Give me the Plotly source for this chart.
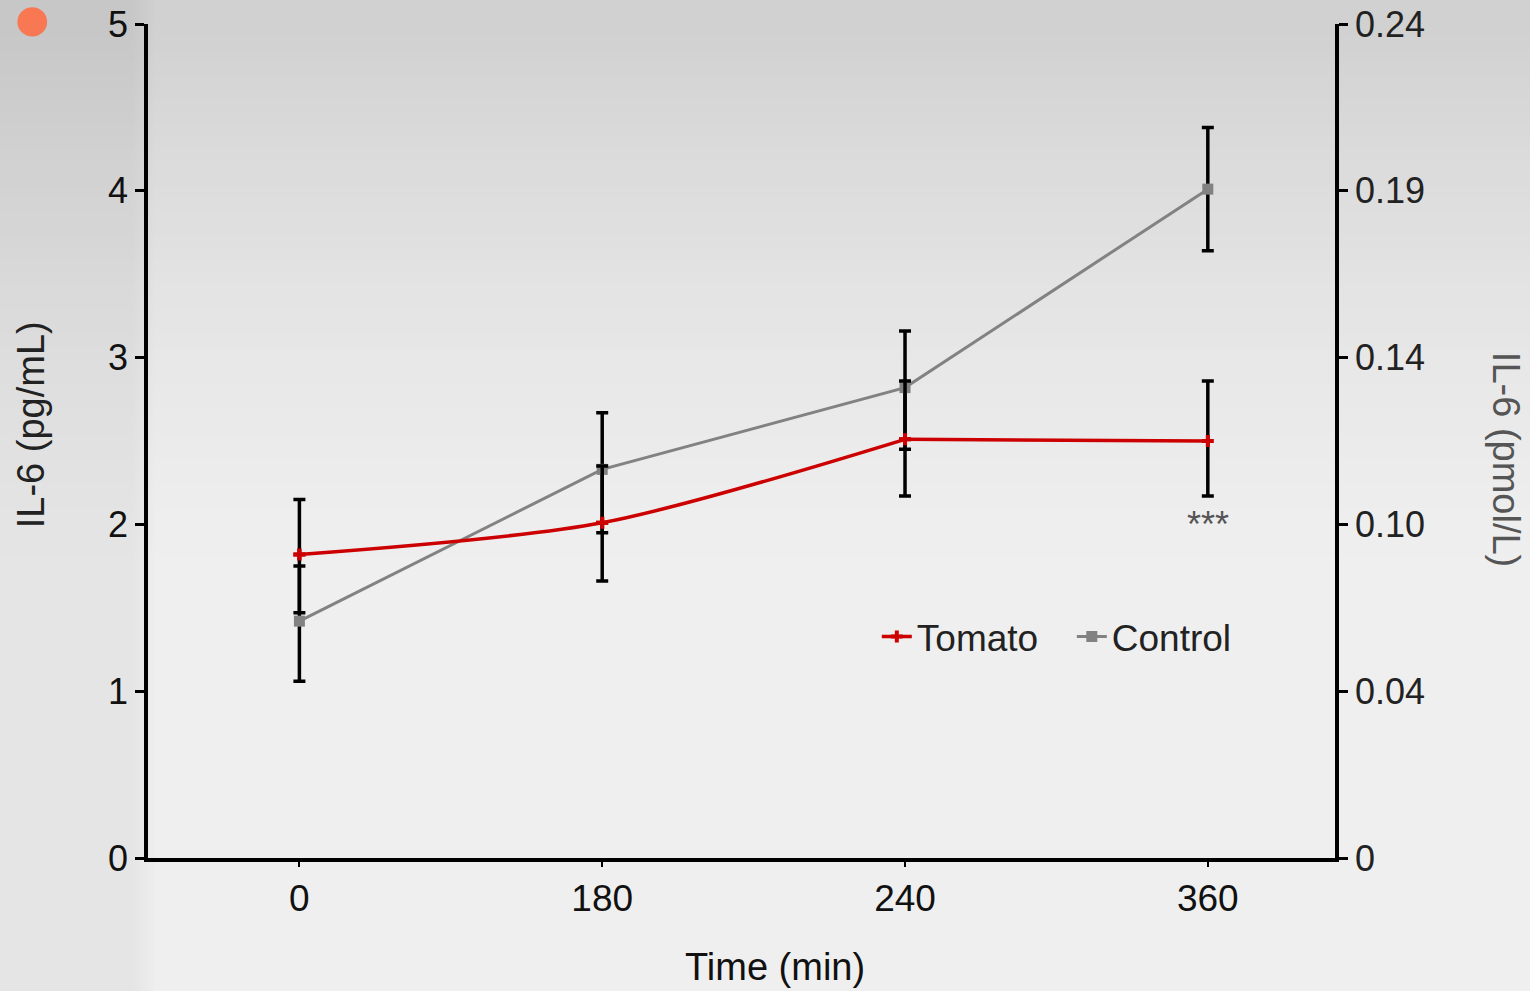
import zlib, struct, base64
import plotly.graph_objects as go

# ---- data ----
time_labels = ["0", "180", "240", "360"]
tomato_mean = [1.82, 2.01, 2.51, 2.50]
tomato_err_up = [0.33, 0.34, 0.35, 0.36]
tomato_err_down = [0.35, 0.35, 0.34, 0.33]
control_mean = [1.42, 2.33, 2.82, 4.01]
control_err_up = [0.33, 0.34, 0.34, 0.37]
control_err_down = [0.36, 0.38, 0.37, 0.37]
left_ticks = [0, 1, 2, 3, 4, 5]
right_tick_text = ["0", "0.04", "0.10", "0.14", "0.19", "0.24"]
sig_label = "***"
sig_time = "360"

RED = "#cc0000"
GRAY = "#828282"
FONT = "Liberation Sans, Arial, sans-serif"


# ---- soft grey background (photographed slide look) ----
def _bg_png(w=64, h=40):
    rows = []
    for j in range(h):
        v = j / (h - 1)
        row = bytearray()
        for i in range(w):
            u = i / (w - 1)
            t = max(0.0, 1.0 - v / 0.55)
            g = 239 - 30 * t ** 1.4
            if u < 0.09:
                g -= 10
            g = int(max(0, min(255, g)))
            row += bytes((g, g, g))
        rows.append(b"\x00" + bytes(row))
    raw = b"".join(rows)

    def chunk(tag, data):
        c = struct.pack(">I", len(data)) + tag + data
        return c + struct.pack(">I", zlib.crc32(tag + data) & 0xFFFFFFFF)

    png = (b"\x89PNG\r\n\x1a\n"
           + chunk(b"IHDR", struct.pack(">IIBBBBB", w, h, 8, 2, 0, 0, 0))
           + chunk(b"IDAT", zlib.compress(raw))
           + chunk(b"IEND", b""))
    return "data:image/png;base64," + base64.b64encode(png).decode()


fig = go.Figure()

# Control: straight line with markers and error bars
fig.add_trace(go.Scatter(
    x=time_labels, y=control_mean, name="Control",
    mode="lines+markers",
    line=dict(color=GRAY, width=3),
    marker=dict(symbol="square", size=11, color=GRAY),
    error_y=dict(type="data", symmetric=False, array=control_err_up,
                 arrayminus=control_err_down, color="black", thickness=3.5, width=6),
))

# Tomato: smooth curve for 0-240, straight for 240-360
fig.add_trace(go.Scatter(
    x=time_labels[:3], y=tomato_mean[:3], name="Tomato",
    mode="lines+markers",
    line=dict(color=RED, width=3.5, shape="spline", smoothing=0.8),
    marker=dict(symbol="cross", size=10, color=RED),
))
fig.add_trace(go.Scatter(
    x=time_labels[2:], y=tomato_mean[2:], showlegend=False,
    mode="lines", line=dict(color=RED, width=3.5), hoverinfo="skip",
))
fig.add_trace(go.Scatter(
    x=time_labels, y=tomato_mean, showlegend=False, name="Tomato",
    mode="markers",
    marker=dict(symbol="cross", size=10, color=RED),
    error_y=dict(type="data", symmetric=False, array=tomato_err_up,
                 arrayminus=tomato_err_down, color="black", thickness=3.5, width=6),
))

# right axis carrier (invisible)
fig.add_trace(go.Scatter(x=time_labels, y=tomato_mean, yaxis="y2",
                         mode="markers", marker=dict(opacity=0),
                         showlegend=False, hoverinfo="skip"))

fig.update_layout(
    width=1530, height=991,
    margin=dict(l=148, r=195, t=24, b=133),
    paper_bgcolor="#e6e6e6",
    plot_bgcolor="rgba(0,0,0,0)",
    font=dict(family=FONT, color="#111111"),
    showlegend=True,
    legend=dict(orientation="h", x=0.614, xanchor="left", y=0.265, yanchor="middle",
                bgcolor="rgba(0,0,0,0)", font=dict(size=37, color="#222222"),
                traceorder="reversed", itemwidth=30,
                entrywidth=150, entrywidthmode="pixels"),
    xaxis=dict(type="category", range=[-0.5, 3.42], automargin=False,
               showline=True, linecolor="black", linewidth=3.5,
               ticks="outside", ticklen=5, tickwidth=2, tickcolor="black",
               tickfont=dict(family=FONT, size=37, color="#111111"),
               showgrid=False, zeroline=False),
    yaxis=dict(range=[0, 5], tickvals=left_ticks, automargin=False,
               showline=True, linecolor="black", linewidth=3.5,
               ticks="outside", ticklen=9, tickwidth=3, tickcolor="black",
               tickfont=dict(family=FONT, size=36, color="#111111"),
               showgrid=False, zeroline=False),
    yaxis2=dict(range=[0, 5], overlaying="y", side="right", automargin=False,
                tickvals=left_ticks, ticktext=right_tick_text,
                showline=True, linecolor="black", linewidth=3.5,
                ticks="outside", ticklen=9, tickwidth=3, tickcolor="black",
                tickfont=dict(family=FONT, size=36, color="#222222"),
                showgrid=False, zeroline=False),
)

fig.add_layout_image(dict(
    source=_bg_png(), xref="paper", yref="paper",
    x=-148 / 1187, y=1 + 24 / 834, sizex=1530 / 1187, sizey=991 / 834,
    xanchor="left", yanchor="top", sizing="stretch", layer="below",
))

fig.add_annotation(x=-0.118, y=0.520, xref="paper", yref="paper",
                   text="IL-6 (pg/mL)", textangle=-90, showarrow=False,
                   font=dict(family=FONT, size=38, color="#222222"))
fig.add_annotation(x=1.163, y=0.478, xref="paper", yref="paper",
                   text="IL-6 (pmol/L)", textangle=90, showarrow=False,
                   font=dict(family=FONT, size=38, color="#555555"))
fig.add_annotation(x=0.528, y=-0.158, xref="paper", yref="paper",
                   text="Time (min)", showarrow=False, yanchor="bottom",
                   font=dict(family=FONT, size=38, color="#111111"))
fig.add_annotation(x=time_labels.index(sig_time), y=2.0, xref="x", yref="y",
                   text=sig_label, showarrow=False,
                   font=dict(family=FONT, size=36, color="#555555"))

# small orange spot in the top-left corner of the photo
fig.add_shape(type="circle", xref="paper", yref="paper",
              x0=-0.11, x1=-0.085, y0=0.985, y1=1.02,
              fillcolor="#ff6a3d", line=dict(width=0), opacity=0.85)

fig.write_html("out.html", config={"displayModeBar": False},
               post_script="document.body.style.margin='0px';")
